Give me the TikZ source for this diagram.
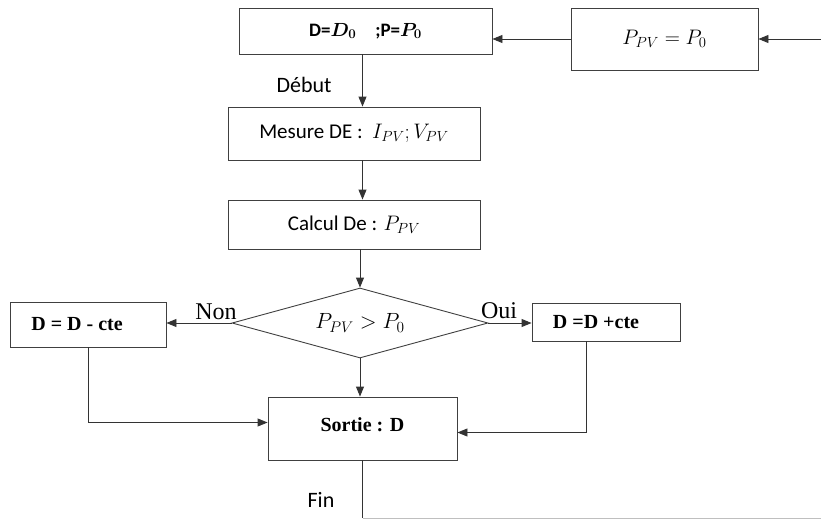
\RequirePackage{fix-cm}
\documentclass[tikz,border=0pt]{standalone}
\usepackage{amsmath}
\usepackage[no-math]{fontspec}
\setmainfont{Carlito}
\newfontfamily\tnr{Liberation Serif}
\usetikzlibrary{shapes.geometric,arrows.meta}
\tikzset{
  blk/.style={draw=black!75, line width=0.9pt, inner sep=0pt, font=\fontsize{21}{25}\selectfont},
  tblk/.style={blk, font=\tnr\bfseries\fontsize{20}{24}\selectfont},
  arr/.style={draw=black!80, line width=0.9pt, -{Triangle[length=10pt,width=8pt]}},
  lnk/.style={draw=black!80, line width=0.9pt},
  lbl/.style={inner sep=0pt, font=\fontsize{22}{26}\selectfont},
  tlbl/.style={inner sep=0pt, font=\tnr\fontsize{24}{28}\selectfont},
}
\begin{document}
\begin{tikzpicture}[x=1pt,y=-1pt]
\useasboundingbox (0,0) rectangle (821,519);
% blocs
\node[blk, minimum width=253pt, minimum height=46pt, font=\bfseries\fontsize{19}{23}\selectfont] (init) at (365.5,31) {D=$\boldsymbol{D_0}$\quad;P=$\boldsymbol{P_0}$};
\node[blk, minimum width=187pt, minimum height=62pt] (ppv) at (664.5,39) {$P_{PV}=P_0$};
\node[blk, minimum width=252pt, minimum height=53pt] (mes) at (354,133.5) {Mesure DE :\ \ $I_{PV};V_{PV}$};
\node[blk, minimum width=252pt, minimum height=49pt] (calc) at (354,224.5) {Calcul De : $P_{PV}$};
\node[blk, shape=diamond, aspect=3.66, minimum width=256pt, minimum height=70pt, font=\fontsize{22}{26}\selectfont] (test) at (360,323) {$P_{PV}>P_0$};
\node[tblk, minimum width=156pt, minimum height=45pt] (minus) at (88,324.5) {\hspace*{-22pt}D = D - cte};
\node[tblk, minimum width=148pt, minimum height=38pt] (plus) at (606,322) {\hspace*{-20pt}D =D +cte};
\node[tblk, minimum width=189pt, minimum height=63pt] (out) at (362.5,428.5) {\raisebox{8pt}{Sortie : D}};
\coordinate (in) at (821,39);
\coordinate (finend) at (821,518);
% textes
\node[lbl] (deb) at (304,85) {Début};
\node[lbl] (fin) at (321,500) {Fin};
\node[tlbl] (non) at (216,312) {Non};
\node[tlbl] (oui) at (499,311) {Oui};
% liaisons
\draw[arr] (in) -- (ppv.east |- in);
\draw[arr] (ppv.west) -- (ppv.west -| init.east);
\draw[arr] (init.south -| out) -- (mes.north -| out);
\draw[arr] (mes.south -| out) -- (calc.north -| out);
\draw[arr] (calc.south -| test) -- (test.north);
\draw[arr] (test.south) -- (out.north -| test.south);
\draw[arr] (test.west) -- (test.west -| minus.east);
\draw[arr] (test.east) -- (test.east -| plus.west);
\draw[arr] (minus.south) |- ([yshift=6pt]out.west);
\draw[arr] ([xshift=-20pt]plus.south) |- ([yshift=-4pt]out.east);
\draw[lnk] (out.south) -- (out.south |- finend);
\draw[draw=black!25, line width=0.9pt] (out.south |- finend) -- (finend);
\end{tikzpicture}
\end{document}
